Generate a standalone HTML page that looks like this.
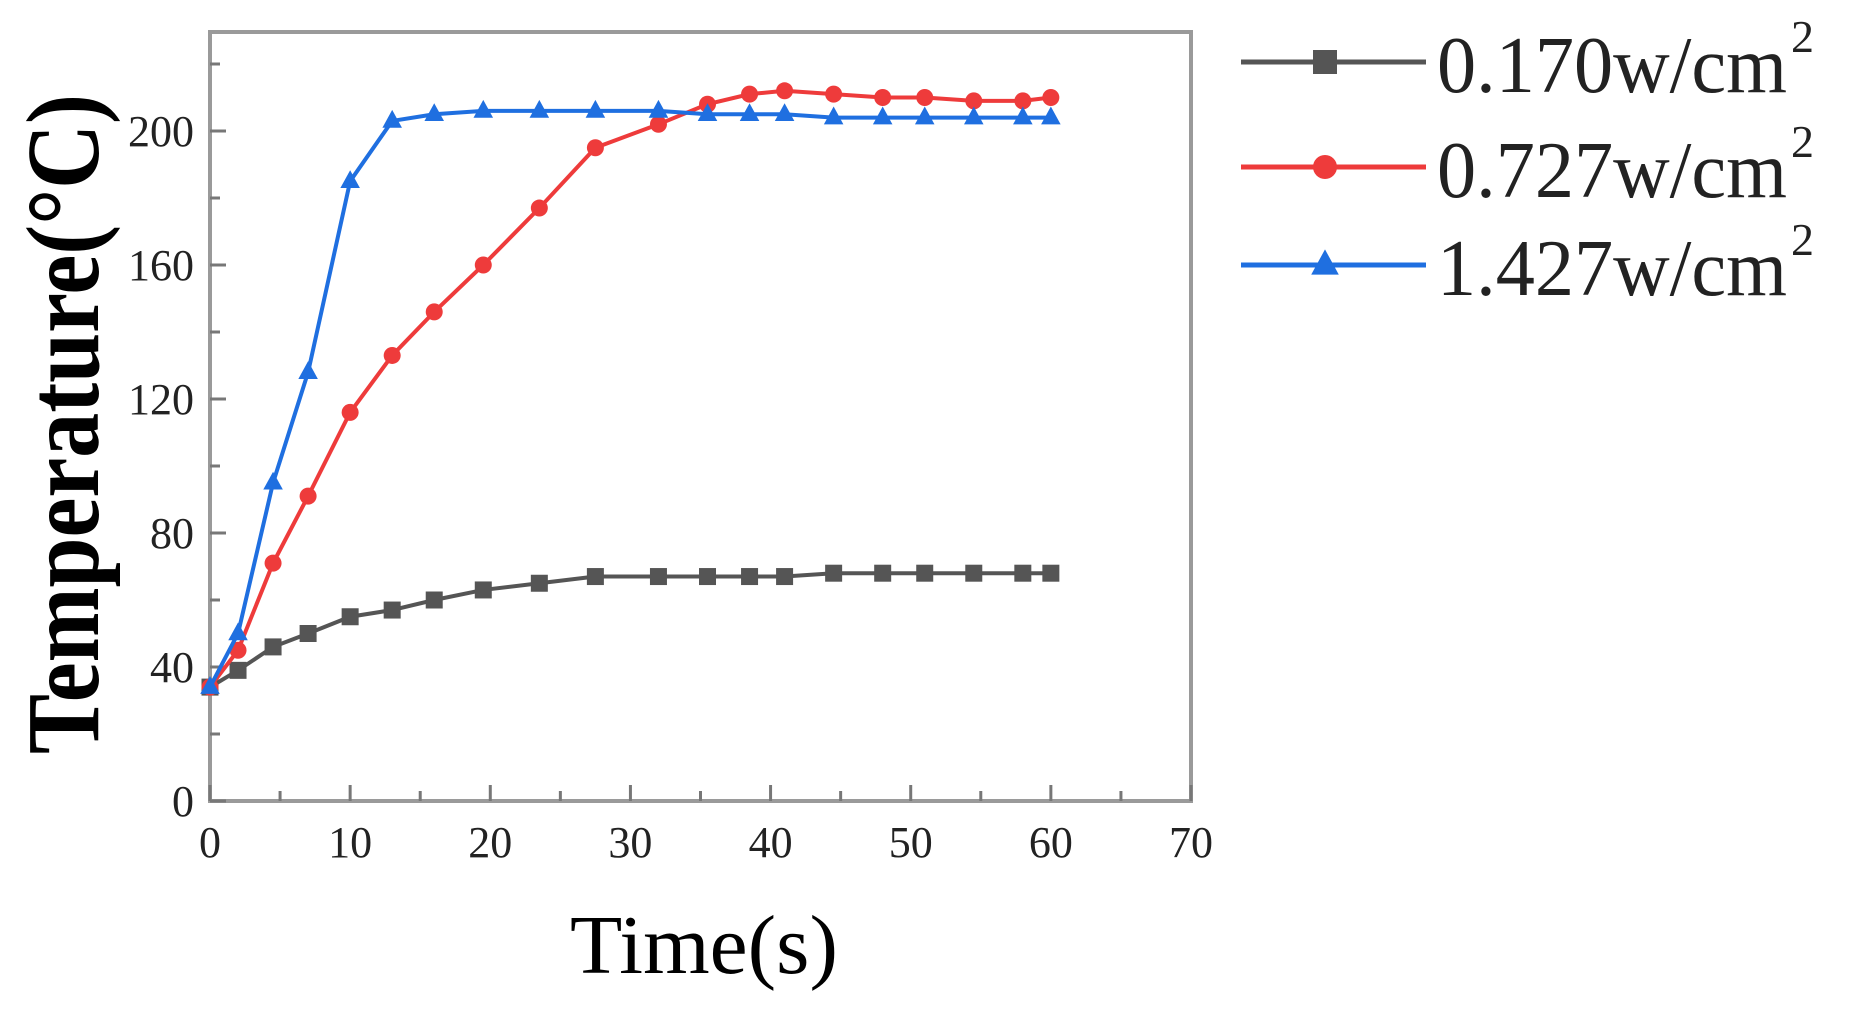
<!DOCTYPE html>
<html><head><meta charset="utf-8"><style>html,body{margin:0;padding:0;background:#fff}svg{display:block}text{font-family:"Liberation Serif",serif;fill:#222}</style></head>
<body>
<svg id="chart" width="1862" height="1019" viewBox="0 0 1862 1019" xmlns="http://www.w3.org/2000/svg">
<g id="axes"></g>
<g id="series"></g>
<g id="legend"></g>
<text transform="translate(98,424) rotate(-90)" text-anchor="middle" font-size="104" font-weight="bold" textLength="660" lengthAdjust="spacingAndGlyphs" style="fill:#000">Temperature(°C)</text>
<text x="704" y="973" text-anchor="middle" font-size="84" textLength="268" lengthAdjust="spacingAndGlyphs" style="fill:#000">Time(s)</text>
</svg>
<script>
const times = [0,2,4.5,7,10,13,16,19.5,23.5,27.5,32,35.5,38.5,41,44.5,48,51,54.5,58,60];
const s170 = [34,39,46,50,55,57,60,63,65,67,67,67,67,67,68,68,68,68,68,68];
const s727 = [34,45,71,91,116,133,146,160,177,195,202,208,211,212,211,210,210,209,209,210];
const s1427 = [34,50,95,128,185,203,205,206,206,206,206,205,205,205,204,204,204,204,204,204];
const xTicks = [0,10,20,30,40,50,60,70];
const yTicks = [0,40,80,120,160,200];
const seriesNames = ["0.170w/cm","0.727w/cm","1.427w/cm"];

const NS="http://www.w3.org/2000/svg";
const L=210,R=1191,T=32,B=801;
const xs=v=>L+(v-0)/70*(R-L);
const ys=v=>B-v/200*670;
function mk(tag,parent){const e=document.createElementNS(NS,tag);parent.appendChild(e);return e;}
const axes=document.getElementById('axes');
const frame=mk('rect',axes);


frame.setAttribute('x',L);frame.setAttribute('y',T);frame.setAttribute('width',R-L);frame.setAttribute('height',B-T);
frame.setAttribute('fill','none');frame.setAttribute('stroke','#9a9a9a');frame.setAttribute('stroke-width','4');
for(let v=0;v<=70;v+=5){
  const t=mk('line',axes);
  
  
  const len=v%10===0?16:10;
  t.setAttribute('x1',xs(v));t.setAttribute('x2',xs(v));t.setAttribute('y1',B);t.setAttribute('y2',B-len);
  t.setAttribute('stroke','#777');t.setAttribute('stroke-width','3');
}
for(let v=0;v<=220;v+=20){
  if(ys(v)<T)break;
  const t=mk('line',axes);
  
  
  const len=v%40===0?16:10;
  t.setAttribute('y1',ys(v));t.setAttribute('y2',ys(v));t.setAttribute('x1',L);t.setAttribute('x2',L+len);
  t.setAttribute('stroke','#777');t.setAttribute('stroke-width','3');
}
xTicks.forEach(v=>{
  const t=mk('text',axes);
  
  
  t.setAttribute('x',xs(v));t.setAttribute('y',B+56);t.setAttribute('text-anchor','middle');t.setAttribute('font-size','44');
  if(String(v).length>1){t.setAttribute('textLength','44');t.setAttribute('lengthAdjust','spacingAndGlyphs');}
  t.textContent=v;
});
yTicks.forEach(v=>{
  const t=mk('text',axes);
  
  
  t.setAttribute('x',L-16);t.setAttribute('y',ys(v)+15);t.setAttribute('text-anchor','end');t.setAttribute('font-size','44');
  const n=String(v).length;
  if(n>1){t.setAttribute('textLength',n*22);t.setAttribute('lengthAdjust','spacingAndGlyphs');}
  t.textContent=v;
});
const cols=["#555555","#ee3b3b","#1f6fe0"];
const data=[s170,s727,s1427];
const shapes=["square","circle","triangle"];
function marker(g,shape,x,y,c,s){
  let m;
  if(shape==="square"){m=mk('rect',g);m.setAttribute('x',x-s);m.setAttribute('y',y-s);m.setAttribute('width',2*s);m.setAttribute('height',2*s);}
  else if(shape==="circle"){m=mk('circle',g);m.setAttribute('cx',x);m.setAttribute('cy',y);m.setAttribute('r',s);}
  else{m=mk('polygon',g);m.setAttribute('points',`${x},${y-s*1.3} ${x+s*1.15},${y+s*0.8} ${x-s*1.15},${y+s*0.8}`);}
  m.setAttribute('fill',c);
  return m;
}
const sg=document.getElementById('series');
data.forEach((arr,i)=>{
  const g=mk('g',sg);
  
  
  const p=mk('polyline',g);
  
  
  p.setAttribute('points',arr.map((v,j)=>xs(times[j])+','+ys(v)).join(' '));
  p.setAttribute('fill','none');p.setAttribute('stroke',cols[i]);p.setAttribute('stroke-width','4');
  arr.forEach((v,j)=>{
    const m=marker(g,shapes[i],xs(times[j]),ys(v),cols[i],8.5);
    
    
  });
});
const lg=document.getElementById('legend');
const ly=[62,167,265];
seriesNames.forEach((nm,i)=>{
  const g=mk('g',lg);
  
  
  const l=mk('line',g);
  l.setAttribute('x1',1241);l.setAttribute('x2',1426);l.setAttribute('y1',ly[i]);l.setAttribute('y2',ly[i]);
  l.setAttribute('stroke',cols[i]);l.setAttribute('stroke-width','5');
  marker(g,shapes[i],1325,ly[i],cols[i],12);
  const t=mk('text',g);
  
  
  t.setAttribute('x',1437);t.setAttribute('y',ly[i]+30);t.setAttribute('font-size','80');
  t.setAttribute('textLength','350');t.setAttribute('lengthAdjust','spacingAndGlyphs');
  t.textContent=nm;
  const s=mk('text',g);
  s.setAttribute('x',1791);s.setAttribute('y',ly[i]-10);s.setAttribute('font-size','46');
  s.textContent='2';
});
</script>
</body></html>
